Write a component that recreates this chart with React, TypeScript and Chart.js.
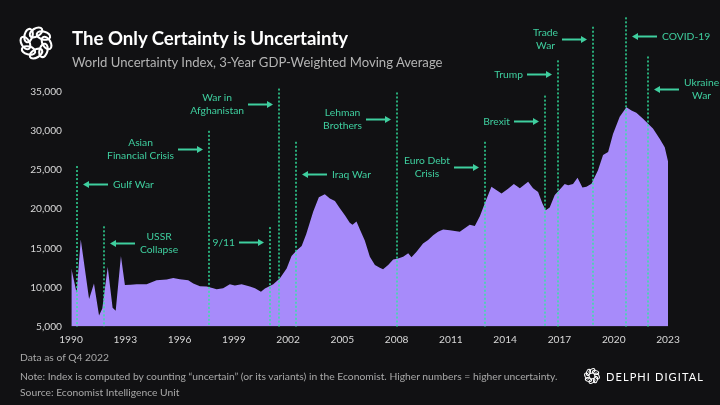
import React, { useEffect, useRef } from "react";
import { Chart, registerables } from "chart.js";

Chart.register(...registerables);

// ---- Data ----
const years = [
  1990.02, 1990.31, 1990.54, 1991.0, 1991.27, 1991.55, 1991.73, 1992.03, 1992.3, 1992.47,
  1992.76, 1992.98, 1993.3, 1993.63, 1994.18, 1994.73, 1995.29, 1995.65, 1996.02, 1996.48,
  1996.76, 1997.13, 1997.5, 1997.86, 1998.05, 1998.41, 1998.78, 1999.06, 1999.43, 1999.89,
  2000.17, 2000.5, 2000.72, 2001.18, 2001.55, 2001.92, 2002.19, 2002.47, 2002.75, 2003.0,
  2003.39, 2003.7, 2004.03, 2004.31, 2004.59, 2004.86, 2005.14, 2005.41, 2005.56, 2005.78,
  2005.97, 2006.24, 2006.52, 2006.8, 2007.07, 2007.25, 2007.53, 2007.81, 2008.08, 2008.36,
  2008.64, 2008.82, 2009.1, 2009.46, 2009.74, 2010.02, 2010.29, 2010.57, 2010.94, 2011.49,
  2012.04, 2012.32, 2012.6, 2012.87, 2013.24, 2013.8, 2014.16, 2014.48, 2014.81, 2015.27,
  2015.54, 2015.82, 2016.06, 2016.24, 2016.46, 2016.74, 2017.02, 2017.29, 2017.48, 2017.75,
  2018.0, 2018.27, 2018.49, 2018.77, 2019.13, 2019.41, 2019.69, 2019.96, 2020.33, 2020.7,
  2020.98, 2021.25, 2021.62, 2021.9, 2022.17, 2022.54, 2022.82, 2023.0,
];
const uncertainty = [
  12400, 9300, 16100, 8500, 10500, 6400, 7300, 12600, 7400, 7000,
  14000, 10300, 10350, 10400, 10400, 10900, 11000, 11200, 11050, 10900,
  10500, 10150, 10100, 9900, 9750, 9900, 10400, 10250, 10400, 10100,
  9900, 9450, 9850, 10400, 11150, 12400, 14000, 14700, 15300, 16800,
  19700, 21500, 21900, 21350, 21050, 20100, 19200, 18250, 18000, 18400,
  17400, 16000, 13900, 12850, 12500, 12300, 12850, 13550, 13700, 13900,
  14350, 13850, 14550, 15600, 16050, 16650, 17100, 17400, 17300, 17100,
  18000, 17850, 19100, 20700, 22850, 22000, 22600, 23200, 22650, 23500,
  22650, 22200, 20700, 19850, 20200, 21800, 22500, 23200, 23050, 23200,
  24000, 22750, 22850, 23250, 24950, 26900, 27300, 29600, 31800, 33000,
  32600, 32300, 31550, 30900, 30300, 29000, 27900, 26100,
];
const xTickYears = [1990, 1993, 1996, 1999, 2002, 2005, 2008, 2011, 2014, 2017, 2020, 2023];
const yTickValues = [5000, 10000, 15000, 20000, 25000, 30000, 35000];

// ---- Events ----
const eventNames = [
  ["Gulf War"], ["USSR", "Collapse"], ["Asian", "Financial Crisis"], ["War in", "Afghanistan"],
  ["9/11"], ["Iraq War"], ["Lehman", "Brothers"], ["Euro Debt", "Crisis"], ["Brexit"],
  ["Trump"], ["Trade", "War"], ["COVID-19"], ["Ukraine", "War"],
];
const eventYears = [1990.33, 1991.82, 1997.61, 2001.49, 2000.99, 2002.45, 2008.03, 2012.86, 2016.19, 2016.92, 2018.86, 2020.7, 2021.9];
const eventTopValues = [25500, 17800, 30000, 35400, 17700, 28600, 34900, 28600, 34500, 39000, 43300, 44500, 39500];
const eventArrowValues = [23180, 15690, 27640, 33380, 15780, 24520, 31560, 25380, 31250, 37300, 41710, 42090, 35290];
const eventLabelSide = ["right", "right", "left", "left", "left", "right", "left", "left", "left", "left", "left", "right", "right"];

const BG = "#111113";
const GREEN = "#3fcf9f";
const FONT = "Lato, 'Open Sans', sans-serif";

const eventsPlugin = {
  id: "eventsPlugin",
  afterDatasetsDraw(chart: any) {
    const { ctx, chartArea, scales } = chart;
    const xs = scales.x;
    const ys = scales.y;
    ctx.save();
    for (let i = 0; i < eventYears.length; i++) {
      const px = Math.round(xs.getPixelForValue(eventYears[i]));
      const top = ys.getPixelForValue(eventTopValues[i]);
      // dotted line
      ctx.setLineDash([2, 2]);
      ctx.lineWidth = 2;
      ctx.strokeStyle = "rgba(50,230,160,0.72)";
      ctx.beginPath();
      ctx.moveTo(px, top);
      ctx.lineTo(px, chartArea.bottom);
      ctx.stroke();
      ctx.setLineDash([]);

      // arrow
      const ay = Math.round(ys.getPixelForValue(eventArrowValues[i])) + 0.5;
      const right = eventLabelSide[i] === "right";
      const tip = right ? px + 6 : px - 6;
      const tail = right ? tip + 25 : tip - 25;
      ctx.strokeStyle = GREEN;
      ctx.fillStyle = GREEN;
      ctx.lineWidth = 2;
      ctx.beginPath();
      ctx.moveTo(tail, ay);
      ctx.lineTo(right ? tip + 4 : tip - 4, ay);
      ctx.stroke();
      ctx.beginPath();
      ctx.moveTo(tip, ay);
      ctx.lineTo(right ? tip + 6 : tip - 6, ay - 3.5);
      ctx.lineTo(right ? tip + 6 : tip - 6, ay + 3.5);
      ctx.closePath();
      ctx.fill();

      // label
      ctx.font = `10.3px ${FONT}`;
      ctx.textBaseline = "middle";
      ctx.textAlign = "center";
      const lines = eventNames[i];
      const w = Math.max(...lines.map((l) => ctx.measureText(l).width));
      const cx = right ? tail + 5 + w / 2 : tail - 4 - w / 2;
      const lh = 13;
      const y0 = ay - ((lines.length - 1) * lh) / 2;
      lines.forEach((l, k) => ctx.fillText(l, cx, y0 + k * lh));
    }
    ctx.restore();
  },
};

function Logo({ size, left, top }: { size: number; left: number; top: number }) {
  const n = 8;
  const c = 18;
  const rr = 10;
  const items = [];
  for (let i = 0; i < n; i++) {
    const a = (i / n) * Math.PI * 2;
    const ex = c + rr * Math.cos(a);
    const ey = c + rr * Math.sin(a);
    items.push(
      <ellipse
        key={i}
        cx={ex}
        cy={ey}
        rx={6.5}
        ry={3.8}
        transform={`rotate(${(a * 180) / Math.PI + 60} ${ex} ${ey})`}
        fill="none"
        stroke="#ffffff"
        strokeWidth={2}
      />
    );
  }
  return (
    <svg width={size} height={size} viewBox="0 0 36 36" style={{ position: "absolute", left, top }}>
      {items}
    </svg>
  );
}

export default function App() {
  const canvasRef = useRef<HTMLCanvasElement | null>(null);

  useEffect(() => {
    document.body.style.margin = "0";
    document.body.style.background = BG;
    const canvas = canvasRef.current;
    if (!canvas) return;
    const chart = new Chart(canvas, {
      type: "line",
      data: {
        datasets: [
          {
            data: years.map((x, i) => ({ x, y: uncertainty[i] })),
            fill: "start",
            backgroundColor: "#a78bfa",
            borderWidth: 0,
            borderColor: "#a78bfa",
            pointRadius: 0,
            tension: 0,
          },
        ],
      },
      options: {
        animation: false,
        responsive: true,
        maintainAspectRatio: false,
        devicePixelRatio: 1,
        layout: { padding: { left: 0, right: 52, top: 91.7, bottom: 0 } },
        plugins: { legend: { display: false }, tooltip: { enabled: false } },
        scales: {
          x: {
            type: "linear",
            min: 1990,
            max: 2023,
            grid: { display: false, drawTicks: false },
            border: { display: false },
            afterBuildTicks: (s: any) => {
              s.ticks = xTickYears.map((v) => ({ value: v }));
            },
            afterFit: (s: any) => {
              s.height = 405 - 326.5;
            },
            ticks: {
              color: "#d8d8d8",
              font: { family: FONT, size: 10.2 },
              padding: 7,
              maxRotation: 0,
              autoSkip: false,
              callback: (v: any) => String(v),
            },
          },
          y: {
            type: "linear",
            min: 5000,
            max: 35000,
            grid: { display: false, drawTicks: false },
            border: { display: false },
            afterBuildTicks: (s: any) => {
              s.ticks = yTickValues.map((v) => ({ value: v }));
            },
            afterFit: (s: any) => {
              s.width = 71;
            },
            ticks: {
              color: "#d8d8d8",
              font: { family: FONT, size: 10.2 },
              padding: 9,
              callback: (v: any) => Number(v).toLocaleString("en-US"),
            },
          },
        },
      },
      plugins: [eventsPlugin],
    });
    return () => chart.destroy();
  }, []);

  const noteStyle: React.CSSProperties = {
    position: "absolute",
    left: 20,
    fontFamily: FONT,
    fontSize: 10.3,
    lineHeight: "11px",
    color: "#a8a8a8",
    whiteSpace: "nowrap",
  };

  return (
    <div style={{ position: "absolute", left: 0, top: 0, width: 720, height: 405, background: BG, overflow: "hidden" }}>
      <canvas ref={canvasRef} style={{ position: "absolute", left: 0, top: 0 }} />
      <div style={{ position: "absolute", left: 0, top: 0, width: 720, height: 405 }}>
        <Logo size={38} left={17} top={24} />
        <div
          style={{
            position: "absolute",
            left: 72,
            top: 29,
            fontFamily: FONT,
            fontWeight: 700,
            fontSize: 18.6,
            lineHeight: "18.6px",
            color: "#ffffff",
            whiteSpace: "nowrap",
          }}
        >
          The Only Certainty is Uncertainty
        </div>
        <div
          style={{
            position: "absolute",
            left: 72,
            top: 56.3,
            fontFamily: FONT,
            fontSize: 13.1,
            lineHeight: "13.1px",
            color: "#b4b4b4",
            whiteSpace: "nowrap",
          }}
        >
          World Uncertainty Index, 3-Year GDP-Weighted Moving Average
        </div>
        <div style={{ ...noteStyle, top: 352 }}>Data as of Q4 2022</div>
        <div style={{ ...noteStyle, top: 371 }}>
          Note: Index is computed by counting “uncertain” (or its variants) in the Economist. Higher numbers = higher uncertainty.
        </div>
        <div style={{ ...noteStyle, top: 387 }}>Source: Economist Intelligence Unit</div>
        <Logo size={18} left={583} top={367} />
        <div
          style={{
            position: "absolute",
            left: 606,
            top: 370.5,
            fontFamily: FONT,
            fontSize: 11,
            lineHeight: "11px",
            letterSpacing: "1.1px",
            color: "#ffffff",
            whiteSpace: "nowrap",
          }}
        >
          DELPHI DIGITAL
        </div>
      </div>
    </div>
  );
}
